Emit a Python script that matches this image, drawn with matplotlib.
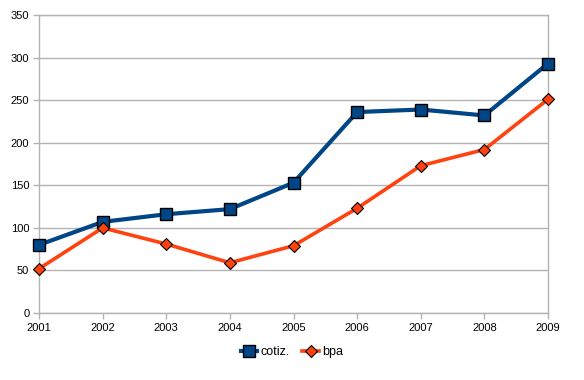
import matplotlib
matplotlib.use("Agg")
import matplotlib.pyplot as plt

plt.rcParams["font.family"] = ["Liberation Sans", "DejaVu Sans"]

years = ["2001", "2002", "2003", "2004", "2005", "2006", "2007", "2008", "2009"]
cotiz = [80, 107, 116, 122, 153, 236, 239, 232, 293]
bpa = [52, 100, 81, 59, 79, 123, 173, 192, 251]
yticks = [0, 50, 100, 150, 200, 250, 300, 350]

grid_col = "#b3b3b3"

fig = plt.figure(figsize=(5.84, 3.80), dpi=100)
ax = fig.add_axes([39 / 584, 1 - 313 / 380, (548 - 39) / 584, (313 - 15) / 380])

x = list(range(len(years)))
ax.plot(x, cotiz, color="#004586", lw=3, marker="s", markersize=8.5,
        markeredgecolor="black", markeredgewidth=1, label="cotiz.",
        zorder=3, clip_on=False)
ax.plot(x, bpa, color="#ff420e", lw=2.6, marker="D", markersize=6.5,
        markeredgecolor="black", markeredgewidth=0.8, label="bpa",
        zorder=3, clip_on=False)

ax.set_xlim(0, len(years) - 1)
ax.set_ylim(0, 350)
ax.set_xticks(x)
ax.set_xticklabels(years)
ax.set_yticks(yticks)
ax.yaxis.grid(True, color=grid_col, lw=1)
ax.set_axisbelow(True)
for s in ax.spines.values():
    s.set_color(grid_col)
    s.set_linewidth(1)
ax.tick_params(axis="both", colors=grid_col, labelcolor="black", labelsize=8,
               length=4, width=1)
ax.tick_params(axis="x", pad=3)
ax.tick_params(axis="y", pad=3)

fig.legend(loc="center", bbox_to_anchor=(0.5, 1 - 352 / 380), ncol=2,
           frameon=False, fontsize=9, handlelength=1.3, handletextpad=0.3,
           columnspacing=1.0)

fig.savefig("out.png", dpi=100)
